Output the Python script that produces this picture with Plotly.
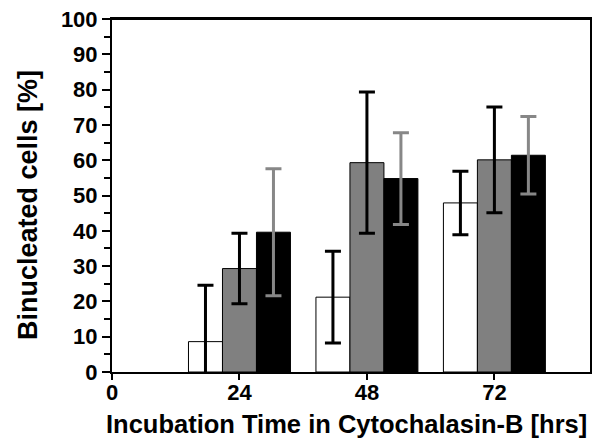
import plotly.graph_objects as go

# incubation time (hrs)
hours = [24, 48, 72]

# binucleated cells [%] and error bars for the three series
white_vals = [8.6, 21.2, 47.9]
white_err = [16.0, 13.0, 9.0]
gray_vals = [29.3, 59.3, 60.1]
gray_err = [10.0, 20.0, 15.0]
black_vals = [39.6, 54.8, 61.4]
black_err = [18.0, 13.0, 11.0]

x_ticks = [0, 24, 48, 72]

font_family = "Liberation Sans, Arial, sans-serif"

fig = go.Figure()

fig.add_trace(go.Bar(
    x=hours, y=white_vals, name="white",
    marker=dict(color="white", line=dict(color="black", width=1)),
    error_y=dict(type="data", array=white_err, color="black", thickness=3, width=8),
))
fig.add_trace(go.Bar(
    x=hours, y=gray_vals, name="gray",
    marker=dict(color="#808080", line=dict(color="black", width=1)),
    error_y=dict(type="data", array=gray_err, color="black", thickness=3, width=8),
))
fig.add_trace(go.Bar(
    x=hours, y=black_vals, name="black",
    marker=dict(color="black", line=dict(color="black", width=1)),
    error_y=dict(type="data", array=black_err, color="#878787", thickness=3, width=8),
))

# page body has an 8px default margin, so the figure is a bit smaller
fig.update_layout(
    width=592, height=439,
    margin=dict(l=104, r=10, t=11, b=75),
    barmode="group", bargap=0.2, bargroupgap=0,
    showlegend=False,
    plot_bgcolor="white", paper_bgcolor="white",
    font=dict(family=font_family, color="black"),
)

# top edge of the frame
fig.add_shape(type="line", xref="paper", yref="paper", x0=0, x1=1, y0=1, y1=1,
              line=dict(color="black", width=2), layer="above")

# axis titles placed as annotations for exact position
fig.add_annotation(text="Incubation Time in Cytochalasin-B [hrs]",
                   xref="paper", yref="paper", x=0.49, y=0,
                   xanchor="center", yanchor="middle", yshift=-52,
                   showarrow=False, font=dict(size=25.5, weight="bold"))
fig.add_annotation(text="Binucleated cells [%]", textangle=-90,
                   xref="paper", yref="paper", x=0, y=0.473,
                   xanchor="center", yanchor="middle", xshift=-84,
                   showarrow=False, font=dict(size=27, weight="bold"))

fig.update_xaxes(
    range=[0, 90], tickvals=x_ticks, automargin=False,
    ticks="outside", ticklen=6, tickwidth=2, tickcolor="black",
    ticklabelstandoff=-6, ticklabeloverflow="allow",
    showline=True, linewidth=2, linecolor="black", mirror=True,
    showgrid=False, zeroline=False,
    tickfont=dict(size=22, weight="bold"),
)
fig.update_yaxes(
    range=[0, 100], dtick=10, automargin=False,
    ticks="outside", ticklen=8, tickwidth=2, tickcolor="black",
    ticklabeloverflow="allow",
    minor=dict(dtick=5, ticks="outside", ticklen=6, tickwidth=2, tickcolor="black"),
    showline=True, linewidth=2, linecolor="black", mirror=True,
    showgrid=False, zeroline=False,
    tickfont=dict(size=22, weight="bold"),
)

fig.write_html("out.html")
